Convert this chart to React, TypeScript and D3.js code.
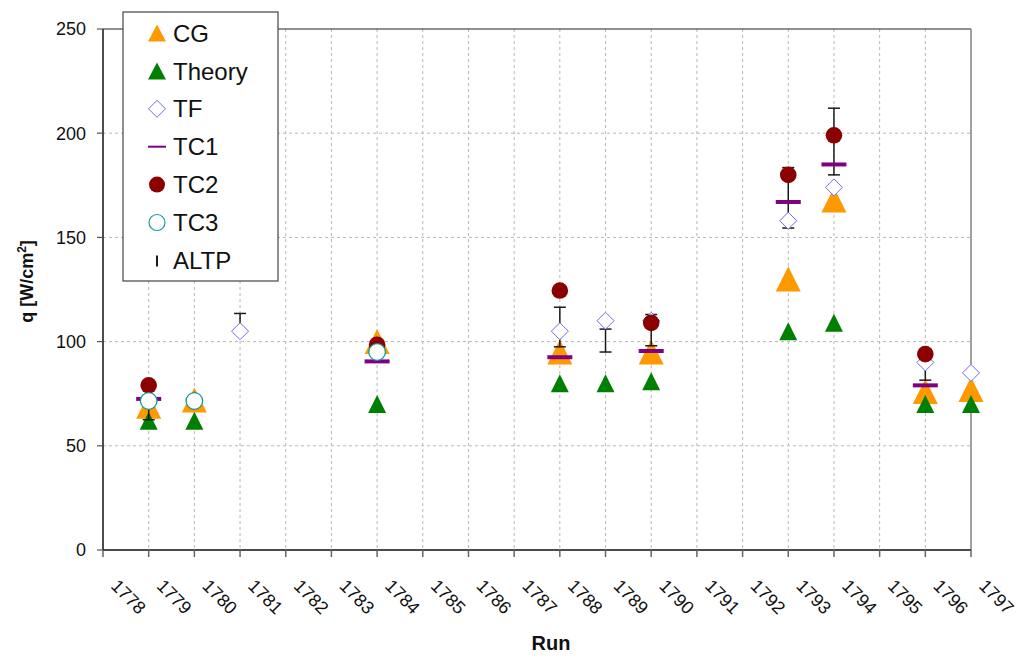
import React from "react";
import * as d3 from "d3";

// Run numbers along the category axis
const runs = [
  "1778", "1779", "1780", "1781", "1782", "1783", "1784", "1785", "1786", "1787",
  "1788", "1789", "1790", "1791", "1792", "1793", "1794", "1795", "1796", "1797",
];

// Heat flux q [W/cm²] per run (null = not measured)
const cg = [null, 69, 72, null, null, null, 100, null, null, null, 95, null, 95, null, null, 130, 168, null, 76, 77];
const theory = [null, 62, 62, null, null, null, 70, null, null, null, 80, 80, 81, null, null, 105, 109, null, 70, 70];
const tf = [null, null, 72, 105, null, null, null, null, null, null, 105, 110, 110, null, null, 158, 174, null, 90, 85];
const tc1 = [null, 72.5, null, null, null, null, 90.5, null, null, null, 92.5, null, 95.5, null, null, 167, 185, null, 79, null];
const tc2 = [null, 79, null, null, null, null, 98.5, null, null, null, 124.5, null, 109, null, null, 180, 199, null, 94, null];
const tc3 = [null, 71.5, 71.5, null, null, null, 95, null, null, null, null, null, null, null, null, null, null, null, null, null];
const altpLow = [null, 62.5, null, 104, null, null, null, null, null, null, 97.5, 95, 98, null, null, 154.5, 180, null, 81.5, null];
const altpHigh = [null, 79, null, 113.5, null, null, null, null, null, null, 116.5, 106, 113, null, null, 183.5, 212, null, 90, null];

const yTicks = [0, 50, 100, 150, 200, 250];

const legendItems = ["CG", "Theory", "TF", "TC1", "TC2", "TC3", "ALTP"];

const W = 1018;
const H = 657;
const FONT = "'Liberation Sans', Arial, sans-serif";

const COLORS = {
  cg: "#ff9900",
  theory: "#008000",
  tf: "#6b6bff",
  tc1: "#800080",
  tc2: "#8b0000",
  tc3: "#119999",
  altp: "#1a1a1a",
};

const tri = (cx: number, cy: number, w: number, h: number) =>
  `M${cx},${cy - h / 2}L${cx + w / 2},${cy + h / 2}L${cx - w / 2},${cy + h / 2}Z`;
const diamond = (cx: number, cy: number, r: number) =>
  `M${cx},${cy - r}L${cx + r},${cy}L${cx},${cy + r}L${cx - r},${cy}Z`;

export default function App() {
  const x = d3.scalePoint<string>().domain(runs).range([103, 971]).padding(0);
  const y = d3.scaleLinear().domain([0, 250]).range([550, 29]);
  const x0 = x.range()[0];
  const x1 = x.range()[1];
  const yb = y(0);
  const yt = y(250);

  const pts = (arr: (number | null)[]) =>
    arr
      .map((v, i) => (v == null ? null : { cx: x(runs[i]) as number, cy: y(v), i }))
      .filter((p): p is { cx: number; cy: number; i: number } => p !== null);

  const legendX = 123;
  const legendY = 12;
  const legendW = 155;
  const legendH = 269;
  const rowH = 37.9;
  const mX = 157;
  const tX = 173;

  const legendMarker = (name: string, cx: number, cy: number) => {
    switch (name) {
      case "CG":
        return <path d={tri(cx, cy, 18, 17)} fill={COLORS.cg} />;
      case "Theory":
        return <path d={tri(cx, cy, 18, 17)} fill={COLORS.theory} />;
      case "TF":
        return <path d={diamond(cx, cy, 8.5)} fill="#fff" stroke={COLORS.tf} strokeWidth={1} />;
      case "TC1":
        return <line x1={cx - 9} x2={cx + 9} y1={cy} y2={cy} stroke={COLORS.tc1} strokeWidth={2} />;
      case "TC2":
        return <circle cx={cx} cy={cy} r={8} fill={COLORS.tc2} />;
      case "TC3":
        return <circle cx={cx} cy={cy} r={8} fill="#fff" stroke={COLORS.tc3} strokeWidth={1.2} />;
      default:
        return <line x1={cx} x2={cx} y1={cy - 5} y2={cy + 6} stroke={COLORS.altp} strokeWidth={2} />;
    }
  };

  return (
    <svg
      width={W}
      height={H}
      style={{ position: "absolute", left: 0, top: 0, background: "#fff" }}
      fontFamily={FONT}
    >
      <rect x={0} y={0} width={W} height={H} fill="#fff" />

      {/* gridlines */}
      <g stroke="#b8b8b8" strokeWidth={1} strokeDasharray="3,3">
        {yTicks
          .filter((t) => t > 0 && t < 250)
          .map((t) => (
            <line key={"h" + t} x1={x0} x2={x1} y1={y(t)} y2={y(t)} />
          ))}
        {runs.slice(1, -1).map((r) => (
          <line key={"v" + r} x1={x(r)} x2={x(r)} y1={yt} y2={yb} />
        ))}
      </g>

      {/* plot frame */}
      <line x1={x0} x2={x1} y1={yt} y2={yt} stroke="#222" strokeWidth={1.2} />
      <line x1={x1} x2={x1} y1={yt} y2={yb} stroke="#808080" strokeWidth={1.5} />

      {/* y axis */}
      <line x1={x0} x2={x0} y1={yt} y2={yb} stroke="#111" strokeWidth={1.5} />
      {yTicks.map((t) => (
        <g key={"yt" + t}>
          <line x1={x0 - 6} x2={x0} y1={y(t)} y2={y(t)} stroke="#555" strokeWidth={1.2} />
          <text x={86} y={y(t)} dy="0.35em" textAnchor="end" fontSize={18} fill="#111">
            {t}
          </text>
        </g>
      ))}

      {/* x axis */}
      <line x1={x0} x2={x1} y1={yb} y2={yb} stroke="#111" strokeWidth={1.5} />
      {runs.map((r) => {
        const cx = x(r) as number;
        return (
          <g key={"xt" + r}>
            <line x1={cx} x2={cx} y1={yb} y2={yb + 7} stroke="#666" strokeWidth={1.5} />
            <text
              transform={`translate(${cx + 7},${yb + 37}) rotate(45)`}
              textAnchor="start"
              fontSize={18}
              fill="#111"
            >
              {r}
            </text>
          </g>
        );
      })}

      {/* axis titles */}
      <text x={551} y={650} textAnchor="middle" fontSize={20} fontWeight="bold" fill="#111">
        Run
      </text>
      <text
        transform={`translate(33,${(yt + yb) / 2 - 8}) rotate(-90)`}
        textAnchor="middle"
        fontSize={18}
        fontWeight="bold"
        fill="#111"
      >
        q [W/cm
        <tspan fontSize={12} dy={-7}>2</tspan>
        <tspan dy={7}>]</tspan>
      </text>

      {/* CG */}
      {pts(cg).map((p) => (
        <path key={"cg" + p.i} d={tri(p.cx, p.cy, 25, 25)} fill={COLORS.cg} />
      ))}
      {/* Theory */}
      {pts(theory).map((p) => (
        <path key={"th" + p.i} d={tri(p.cx, p.cy, 18, 18)} fill={COLORS.theory} />
      ))}
      {/* ALTP error bars */}
      {altpLow.map((lo, i) => {
        const hi = altpHigh[i];
        if (lo == null || hi == null) return null;
        const cx = x(runs[i]) as number;
        return (
          <g key={"al" + i} stroke={COLORS.altp} strokeWidth={1.5}>
            <line x1={cx} x2={cx} y1={y(lo)} y2={y(hi)} />
            <line x1={cx - 6} x2={cx + 6} y1={y(lo)} y2={y(lo)} />
            <line x1={cx - 6} x2={cx + 6} y1={y(hi)} y2={y(hi)} />
          </g>
        );
      })}
      {/* TF */}
      {pts(tf).map((p) => (
        <path key={"tf" + p.i} d={diamond(p.cx, p.cy, 8.5)} fill="#fff" stroke={COLORS.tf} strokeWidth={1} />
      ))}
      {/* TC1 */}
      {pts(tc1).map((p) => (
        <line key={"t1" + p.i} x1={p.cx - 12.5} x2={p.cx + 12.5} y1={p.cy} y2={p.cy} stroke={COLORS.tc1} strokeWidth={4} />
      ))}
      {/* TC2 */}
      {pts(tc2).map((p) => (
        <circle key={"t2" + p.i} cx={p.cx} cy={p.cy} r={8.3} fill={COLORS.tc2} />
      ))}
      {/* TC3 */}
      {pts(tc3).map((p) => (
        <circle key={"t3" + p.i} cx={p.cx} cy={p.cy} r={8.3} fill="#fff" stroke={COLORS.tc3} strokeWidth={1.3} />
      ))}

      {/* legend */}
      <rect x={legendX} y={legendY} width={legendW} height={legendH} fill="#fff" stroke="#444" strokeWidth={1.2} />
      {legendItems.map((name, k) => {
        const cy = legendY + 21 + k * rowH;
        return (
          <g key={"lg" + name}>
            {legendMarker(name, mX, cy)}
            <text x={tX} y={cy} dy="0.36em" fontSize={24} fill="#111">
              {name}
            </text>
          </g>
        );
      })}
    </svg>
  );
}
